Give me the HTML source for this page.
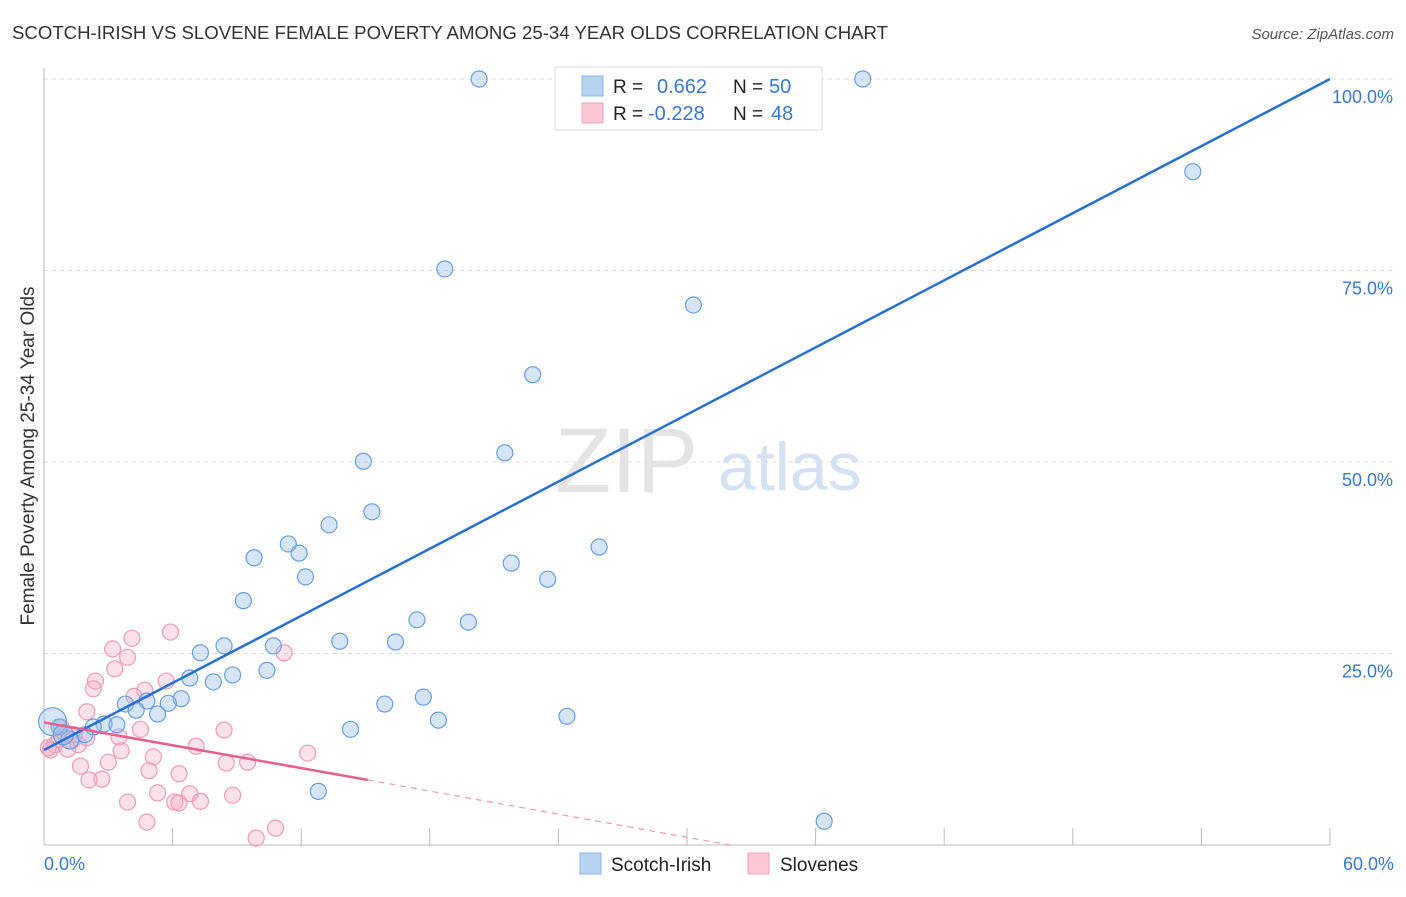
<!DOCTYPE html>
<html><head><meta charset="utf-8"><style>
body{margin:0;background:#fff;font-family:"Liberation Sans",sans-serif;}
svg text{font-family:"Liberation Sans",sans-serif;}
</style></head><body>
<svg id="chart" width="1406" height="892" xmlns="http://www.w3.org/2000/svg">
<text x="12" y="39" font-size="18" fill="#333" textLength="876" lengthAdjust="spacingAndGlyphs">SCOTCH-IRISH VS SLOVENE FEMALE POVERTY AMONG 25-34 YEAR OLDS CORRELATION CHART</text>
<text x="1394" y="39" font-size="15" font-style="italic" fill="#555" text-anchor="end">Source: ZipAtlas.com</text>
<text transform="translate(34,456) rotate(-90)" font-size="19" fill="#333" text-anchor="middle">Female Poverty Among 25-34 Year Olds</text>
<text x="555" y="492" font-size="92" fill="#e4e4e4" font-family="Liberation Serif">ZIP</text>
<text x="718" y="490" font-size="68" fill="#d6e2f4">atlas</text>
<g id="grid"></g>
<g id="axes"></g>
<g id="points"></g>
<g id="lines"></g>
<g>
<rect x="555" y="67" width="267" height="63" fill="#fff" stroke="#ddd"/>
<rect x="582" y="76" width="21" height="20" fill="#b9d2f2" stroke="#8db3e6"/>
<rect x="582" y="103" width="21" height="20" fill="#fcc8d7" stroke="#f0a3bb"/>
<text x="613" y="93" font-size="19" fill="#222">R = </text><text x="657" y="93" font-size="20" fill="#3a78d4">0.662</text>
<text x="733" y="93" font-size="19" fill="#222">N = </text><text x="769" y="93" font-size="20" fill="#3a78d4">50</text>
<text x="613" y="120" font-size="19" fill="#222">R = </text><text x="648" y="120" font-size="20" fill="#3a78d4">-0.228</text>
<text x="733" y="120" font-size="19" fill="#222">N = </text><text x="771" y="120" font-size="20" fill="#3a78d4">48</text>
</g>
<g>
<rect x="580" y="853" width="21" height="21" fill="#b9d2f2" stroke="#8db3e6"/>
<text x="611" y="871" font-size="19" fill="#222">Scotch-Irish</text>
<rect x="748" y="853" width="21" height="21" fill="#fcc8d7" stroke="#f0a3bb"/>
<text x="780" y="871" font-size="19" fill="#222">Slovenes</text>
</g>
</svg>
<script>
const xTicks=[0,6,12,18,24,30,36,42,48,54,60];
const yTicks=[25,50,75,100];
const blueX=[20.3,38.2,53.6,18.7,30.3,22.8,14.9,21.5,15.3,13.3,11.4,11.9,9.8,25.9,21.8,23.5,12.2,9.3,17.4,19.8,13.8,16.4,8.4,10.7,7.3,10.4,8.8,7.9,6.8,6.4,5.8,4.8,3.8,4.3,5.3,15.9,17.7,24.4,18.4,14.3,2.8,3.4,2.3,1.9,0.7,0.4,1.2,12.8,36.4,0.9];
const blueY=[100,100,87.9,75.2,70.5,61.4,50.1,51.2,43.5,41.8,39.3,38.1,37.5,38.9,36.8,34.7,35.0,31.9,29.4,29.1,26.6,26.5,26.0,26.0,25.1,22.8,22.2,21.3,21.8,19.1,18.5,18.8,18.4,17.6,17.1,18.4,19.3,16.8,16.3,15.1,15.8,15.7,15.4,14.4,15.4,16.1,13.7,7.0,3.1,14.4];
const blueR=[8,8,8,8,8,8,8,8,8,8,8,8,8,8,8,8,8,8,8,8,8,8,8,8,8,8,8,8,8,8,8,8,8,8,8,8,8,8,8,8,8,8,8,8,8,14,9,8,8,10];
const pinkX=[5.9,4.1,3.2,3.9,3.3,11.2,2.4,5.7,4.7,2.3,4.2,2,8.4,4.5,3.5,7.1,12.3,5.1,3.6,3,1.7,4.9,9.5,8.5,6.3,2.7,2.1,5.3,6.8,8.8,6.1,6.3,7.3,3.9,4.8,10.8,9.9,1,0.5,0.3,1.3,0.8,0.7,0.2,1.4,1.6,2,1.1];
const pinkY=[27.8,27,25.6,24.5,23,25.1,21.4,21.4,20.2,20.4,19.4,17.4,15,15.1,14.1,12.9,12,11.5,12.3,10.8,10.3,9.7,10.8,10.7,9.3,8.6,8.5,6.8,6.7,6.5,5.6,5.5,5.7,5.6,3,2.2,0.9,14.4,13.1,12.4,13.6,15.4,13.8,12.7,14.4,13.1,14,12.5];
const blueLine=[0,12.4,60,100];
const pinkLine=[0,16,15.1,8.5,32,0];
const L=44,R=1330,T=79,B=845;
const sx=v=>L+(v/60)*(R-L);
const sy=v=>B-(v/100)*(B-T);
const NS="http://www.w3.org/2000/svg";
function mk(t,a,p){const e=document.createElementNS(NS,t);for(const k in a)e.setAttribute(k,a[k]);p.appendChild(e);return e;}
const grid=document.getElementById('grid'),axes=document.getElementById('axes');
yTicks.forEach(v=>{
 const g=mk('line',{x1:L,x2:1395,y1:sy(v),y2:sy(v),stroke:'#ddd','stroke-dasharray':'4,4'},grid);
 
 
 const t=mk('text',{x:1393,y:sy(v)+24,'font-size':18,fill:'#3a78d4','text-anchor':'end'},axes);
 t.textContent=v.toFixed(1)+'%';
 
 
});
const ax=mk('line',{x1:L,x2:L,y1:68,y2:B,stroke:'#bbb'},axes);


const bx=mk('line',{x1:L,x2:R,y1:B,y2:B,stroke:'#bbb'},axes);


xTicks.forEach(v=>{
 const t=mk('line',{x1:sx(v),x2:sx(v),y1:828,y2:B,stroke:'#bbb'},axes);
 
 
});
[[0,'start',44],[60,'end',1394]].forEach(([v,a,x])=>{
 const t=mk('text',{x:x,y:870,'font-size':18,fill:'#3a78d4','text-anchor':a},axes);
 t.textContent=v.toFixed(1)+'%';
 
 
});
const pts=document.getElementById('points');
pinkX.forEach((x,i)=>{
 const c=mk('circle',{cx:sx(x),cy:sy(pinkY[i]),r:8,fill:'rgba(245,170,195,0.35)',stroke:'#ec9db5','stroke-width':1.2},pts);
 
 
});
blueX.forEach((x,i)=>{
 const c=mk('circle',{cx:sx(x),cy:sy(blueY[i]),r:blueR[i],fill:'rgba(150,190,235,0.4)',stroke:'#6a9ee0','stroke-width':1.2},pts);
 
 
});
const ln=document.getElementById('lines');
const b=mk('line',{x1:sx(blueLine[0]),y1:sy(blueLine[1]),x2:sx(blueLine[2]),y2:sy(blueLine[3]),stroke:'#2a6fd6','stroke-width':2.5},ln);


const p1=mk('line',{x1:sx(pinkLine[0]),y1:sy(pinkLine[1]),x2:sx(pinkLine[2]),y2:sy(pinkLine[3]),stroke:'#e8608c','stroke-width':2.5},ln);


const p2=mk('line',{x1:sx(pinkLine[2]),y1:sy(pinkLine[3]),x2:sx(pinkLine[4]),y2:sy(pinkLine[5]),stroke:'#eb9ab3','stroke-width':1.2,'stroke-dasharray':'6,5'},ln);


</script>
</body></html>
